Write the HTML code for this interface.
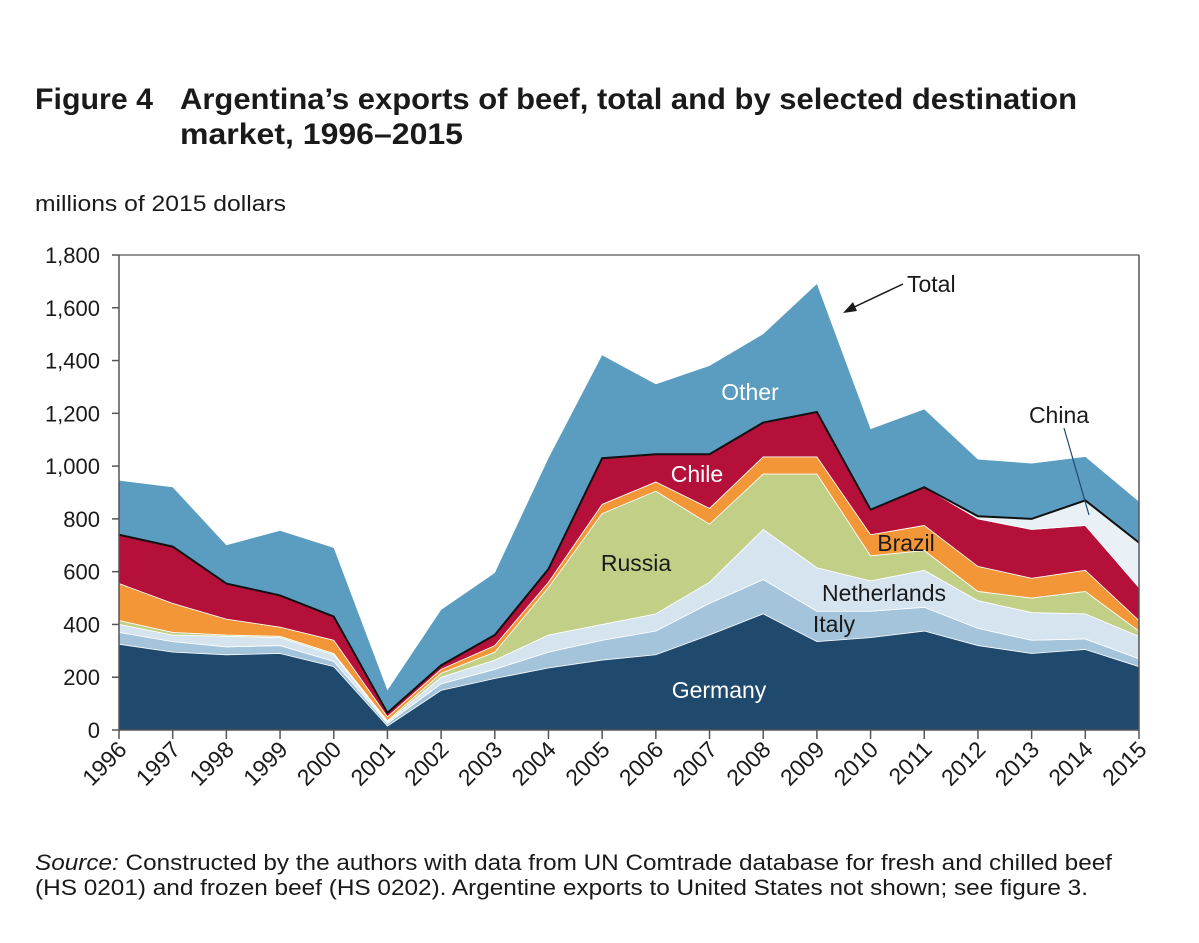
<!DOCTYPE html>
<html><head><meta charset="utf-8"><style>
body{margin:0;background:#fff;font-family:"Liberation Sans",sans-serif;}
svg text{font-family:"Liberation Sans",sans-serif;}
</style></head><body>
<svg width="1199" height="938" viewBox="0 0 1199 938">
<text x="35" y="109" font-size="30" font-weight="bold" fill="#1a1a1a" textLength="118" lengthAdjust="spacingAndGlyphs">Figure 4</text>
<text x="180" y="109" font-size="30" font-weight="bold" fill="#1a1a1a" textLength="897" lengthAdjust="spacingAndGlyphs">Argentina’s exports of beef, total and by selected destination</text>
<text x="180" y="144" font-size="30" font-weight="bold" fill="#1a1a1a" textLength="283" lengthAdjust="spacingAndGlyphs">market, 1996–2015</text>
<text x="35" y="211" font-size="22" fill="#1a1a1a" textLength="251" lengthAdjust="spacingAndGlyphs">millions of 2015 dollars</text>
<g id="areas"></g>
<g id="axes"></g>
<g id="labels">
<text x="750" y="400" font-size="23" fill="#fff" text-anchor="middle">Other</text>
<text x="697" y="482" font-size="23" fill="#fff" text-anchor="middle">Chile</text>
<text x="636" y="571" font-size="23" fill="#1a1a1a" text-anchor="middle">Russia</text>
<text x="906" y="551" font-size="23" fill="#1a1a1a" text-anchor="middle">Brazil</text>
<text x="884" y="601" font-size="23" fill="#1a1a1a" text-anchor="middle">Netherlands</text>
<text x="834" y="632" font-size="23" fill="#1a1a1a" text-anchor="middle">Italy</text>
<text x="719" y="698" font-size="23" fill="#fff" text-anchor="middle">Germany</text>
<text x="1059" y="423" font-size="23" fill="#1a1a1a" text-anchor="middle">China</text>
<line x1="1064" y1="428" x2="1089" y2="515" stroke="#1f4a6e" stroke-width="1.2"/>
<text x="907" y="292" font-size="23" fill="#1a1a1a">Total</text>
<line x1="903" y1="284" x2="850" y2="309" stroke="#1a1a1a" stroke-width="1.5"/>
<polygon points="843,313 853,302 857,311" fill="#1a1a1a"/>
</g>
<text x="35" y="870" font-size="22" fill="#1a1a1a" textLength="1077" lengthAdjust="spacingAndGlyphs"><tspan font-style="italic">Source:</tspan> Constructed by the authors with data from UN Comtrade database for fresh and chilled beef</text>
<text x="35" y="895" font-size="22" fill="#1a1a1a" textLength="1053" lengthAdjust="spacingAndGlyphs">(HS 0201) and frozen beef (HS 0202). Argentine exports to United States not shown; see figure 3.</text>
</svg>
<script>
const years=[1996,1997,1998,1999,2000,2001,2002,2003,2004,2005,2006,2007,2008,2009,2010,2011,2012,2013,2014,2015];
const germany=[325,295,285,290,240,15,150,195,235,265,285,360,440,335,350,375,320,290,305,240];
const italy=[45,40,30,30,20,10,25,35,60,75,90,120,130,115,100,90,65,50,40,30];
const netherlands=[30,25,40,30,25,5,25,35,65,60,65,80,190,165,115,140,105,105,95,85];
const russia=[15,10,5,5,5,5,15,30,180,420,465,220,210,355,95,75,35,55,85,20];
const brazil=[140,110,60,35,50,15,15,25,20,35,35,60,65,65,80,95,95,75,80,40];
const chile=[185,215,135,120,90,15,15,40,50,175,105,205,130,170,95,145,180,185,170,125];
const china=[0,0,0,0,0,0,0,0,0,0,0,0,0,0,0,0,10,40,95,170];
const other=[205,225,145,245,260,85,210,235,420,390,265,335,335,485,305,295,215,210,165,155];
const yTicks=[0,200,400,600,800,1000,1200,1400,1600,1800];
const yTickLabels=["0","200","400","600","800","1,000","1,200","1,400","1,600","1,800"];

const NS="http://www.w3.org/2000/svg";
const x0=119,x1=1139,yb=730,yt=255,ymax=1800;
const xs=i=>x0+(x1-x0)*i/(years.length-1);
const ys=v=>yb-(yb-yt)*v/ymax;
const series=[
 ['germany',germany,'#1f4a6e'],['italy',italy,'#a3c4da'],['netherlands',netherlands,'#d6e4ef'],
 ['russia',russia,'#c2cf86'],['brazil',brazil,'#f39638'],['chile',chile,'#b5103a'],
 ['china',china,'#e9f0f6'],['other',other,'#5a9dc0']];
const areas=document.getElementById('areas');
let base=years.map(()=>0);
let chinaTop=null;
series.forEach(([name,vals,col])=>{
 const top=base.map((b,i)=>b+vals[i]);
 let d='M'+top.map((v,i)=>xs(i)+','+ys(v)).join(' L');
 for(let i=years.length-1;i>=0;i--) d+=' L'+xs(i)+','+ys(base[i]);
 const p=document.createElementNS(NS,'path');
 p.setAttribute('d',d+'Z');p.setAttribute('fill',col);
 p.setAttribute('stroke',name==='other'||name==='germany'?'none':'#fff');p.setAttribute('stroke-width','0.8');
 
 
 areas.appendChild(p);
 if(name==='china') chinaTop=top.slice();
 base=top;
});
const tl=document.createElementNS(NS,'polyline');
tl.setAttribute('points',chinaTop.map((v,i)=>xs(i)+','+ys(v)).join(' '));
tl.setAttribute('fill','none');tl.setAttribute('stroke','#111');tl.setAttribute('stroke-width','2');


areas.appendChild(tl);

const ax=document.getElementById('axes');
function line(a,b,c,d,n,w){const l=document.createElementNS(NS,'line');l.setAttribute('x1',a);l.setAttribute('y1',b);l.setAttribute('x2',c);l.setAttribute('y2',d);l.setAttribute('stroke','#555');l.setAttribute('stroke-width',w||1.5);
 
 
 ax.appendChild(l);}
line(x0,yt,x1,yt,'plot-frame-top',1.2);line(x1,yt,x1,yb,'plot-frame-right',1.5);
line(x0,yt,x0,yb+1,'y-axis',1.5);line(x0,yb,x1,yb,'x-axis',1.5);
yTicks.forEach((v,i)=>{
 line(x0-7,ys(v),x0,ys(v),'y-tick',1.5);
 const t=document.createElementNS(NS,'text');
 t.setAttribute('x',100);t.setAttribute('y',ys(v)+8);t.setAttribute('text-anchor','end');t.setAttribute('font-size','22');t.setAttribute('fill','#1a1a1a');
 t.textContent=yTickLabels[i];
 
 
 ax.appendChild(t);
});
years.forEach((y,i)=>{
 line(xs(i),yb,xs(i),yb+9,'x-tick',1.5);
 const t=document.createElementNS(NS,'text');
 const tx=xs(i)+9,ty=yb+21;
 t.setAttribute('x',tx);t.setAttribute('y',ty);t.setAttribute('text-anchor','end');t.setAttribute('font-size','23');t.setAttribute('fill','#1a1a1a');
 t.setAttribute('transform','rotate(-45 '+tx+' '+ty+')');
 t.textContent=y;
 
 
 ax.appendChild(t);
});
</script>
</body></html>
